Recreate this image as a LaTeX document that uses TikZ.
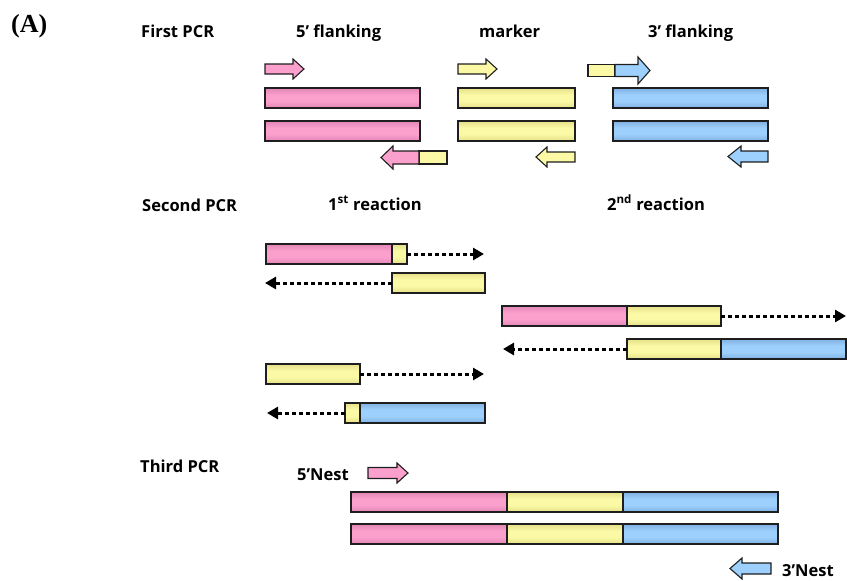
\documentclass[tikz,border=0pt]{standalone}
\usepackage{fontspec}
\setmainfont{Open Sans}
\newfontfamily\labelserif{Liberation Serif}
\usetikzlibrary{arrows.meta}

\definecolor{pinkM}{HTML}{FB9FCD}
\definecolor{pinkE}{HTML}{E186B5}
\definecolor{yelM}{HTML}{FBF9A6}
\definecolor{yelE}{HTML}{E6DF88}
\definecolor{bluM}{HTML}{9DD0FC}
\definecolor{bluE}{HTML}{80B0E2}
\definecolor{edge}{HTML}{1E1E1E}

% bar shadings: darker rims, light middle
\pgfdeclareverticalshading{pinkshade}{100bp}{color(0bp)=(pinkE); color(25bp)=(pinkE);
  color(42bp)=(pinkM); color(58bp)=(pinkM); color(75bp)=(pinkE); color(100bp)=(pinkE)}
\pgfdeclareverticalshading{yelshade}{100bp}{color(0bp)=(yelE); color(25bp)=(yelE);
  color(42bp)=(yelM); color(58bp)=(yelM); color(75bp)=(yelE); color(100bp)=(yelE)}
\pgfdeclareverticalshading{blushade}{100bp}{color(0bp)=(bluE); color(25bp)=(bluE);
  color(42bp)=(bluM); color(58bp)=(bluM); color(75bp)=(bluE); color(100bp)=(bluE)}

% primer arrow: fill, tail x, head-base x, tip x, mid y, shaft half height, head half height
\newcommand\primerarrow[7]{%
  \filldraw[primer,fill=#1] (#2,#5-#6) -- (#3,#5-#6) -- (#3,#5-#7) -- (#4,#5)
    -- (#3,#5+#7) -- (#3,#5+#6) -- (#2,#5+#6) -- cycle;}

\begin{document}
\begin{tikzpicture}[x=1pt,y=-1pt,
  bar/.style={draw=edge,line width=1.1pt,inner sep=0pt,outer sep=0pt,
    minimum height=20pt,anchor=north west},
  pinkbar/.style={bar,shading=pinkshade},
  yelbar/.style={bar,shading=yelshade},
  blubar/.style={bar,shading=blushade},
  primer/.style={draw=edge,line width=1.1pt,line join=miter},
  ext/.style={line width=3pt,dash pattern=on 4pt off 3pt,
    -{Triangle[length=11pt,width=12pt]}},
  lbl/.style={font=\bfseries\fontsize{16.5}{19}\selectfont,inner sep=0pt,anchor=base west}]

\useasboundingbox (0,0) rectangle (847,581);

% ---------- headings ----------
\node[inner sep=0pt,anchor=base west,font=\labelserif\bfseries\fontsize{26}{28}\selectfont] (tagA) at (11,32) {(A)};
\node[lbl] (hFirst) at (141,37) {First PCR};
\node[lbl] (h5f) at (296,37) {5’ flanking};
\node[lbl] (hMark) at (479,37) {marker};
\node[lbl] (h3f) at (648,37) {3’ flanking};
\node[lbl] (hSecond) at (142,211) {Second PCR};
\node[lbl] (hR1) at (328,210) {1\textsuperscript{st} reaction};
\node[lbl] (hR2) at (607,210) {2\textsuperscript{nd} reaction};
\node[lbl] (hThird) at (140,472) {Third PCR};
\node[lbl] (h5n) at (297,480) {5’Nest};
\node[lbl] (h3n) at (782,576) {3’Nest};

% ---------- first PCR: templates ----------
\node[pinkbar,minimum width=155pt] (p1) at (265,88) {};
\node[pinkbar,minimum width=155pt] (p2) at (265,121) {};
\node[yelbar,minimum width=117pt] (m1) at (458,88) {};
\node[yelbar,minimum width=117pt] (m2) at (458,121) {};
\node[blubar,minimum width=155pt] (b1) at (613,88) {};
\node[blubar,minimum width=155pt] (b2) at (613,121) {};

% first PCR: primers
\primerarrow{pinkM}{265}{293}{304}{69}{5}{10}
\primerarrow{yelM}{458}{486}{497}{69}{5}{10}
\filldraw[primer,fill=yelM] (588,64.5) rectangle (615,76.5);
\primerarrow{bluM}{615}{638}{650}{70.5}{6}{13.5}
\filldraw[primer,fill=yelM] (419,151) rectangle (447,164);
\primerarrow{pinkM}{419}{393}{381}{157.5}{6.5}{11.5}
\primerarrow{yelM}{575}{547}{536}{157}{5}{10}
\primerarrow{bluM}{768}{741}{728}{156.5}{5.5}{10.5}

% ---------- second PCR: 1st reaction ----------
\node[pinkbar,minimum width=126pt] (s1p) at (266,244) {};
\node[yelbar,minimum width=15pt] (s1y) at (392,244) {};
\coordinate (s1end) at (484,254);
\draw[ext] (s1y.east) -- (s1end);

\node[yelbar,minimum width=93pt] (s2y) at (392,273) {};
\coordinate (s2end) at (265,283);
\draw[ext] (s2y.west) -- (s2end);

\node[yelbar,minimum width=94pt] (s3y) at (266,364) {};
\coordinate (s3end) at (484,374);
\draw[ext] (s3y.east) -- (s3end);

\node[yelbar,minimum width=15pt] (s4y) at (345,403) {};
\node[blubar,minimum width=125pt] (s4b) at (360,403) {};
\coordinate (s4end) at (267,413);
\draw[ext] (s4y.west) -- (s4end);

% ---------- second PCR: 2nd reaction ----------
\node[pinkbar,minimum width=125pt] (t1p) at (502,306) {};
\node[yelbar,minimum width=94pt] (t1y) at (627,306) {};
\coordinate (t1end) at (846,316);
\draw[ext] (t1y.east) -- (t1end);

\node[yelbar,minimum width=94pt] (t2y) at (627,339) {};
\node[blubar,minimum width=125pt] (t2b) at (721,339) {};
\coordinate (t2end) at (503,349);
\draw[ext] (t2y.west) -- (t2end);

% ---------- third PCR ----------
\primerarrow{pinkM}{368}{397}{408}{473}{5.5}{10}
\node[pinkbar,minimum width=156pt] (f1p) at (351,492) {};
\node[yelbar,minimum width=116pt] (f1y) at (507,492) {};
\node[blubar,minimum width=155pt] (f1b) at (623,492) {};
\node[pinkbar,minimum width=156pt] (f2p) at (351,524) {};
\node[yelbar,minimum width=116pt] (f2y) at (507,524) {};
\node[blubar,minimum width=155pt] (f2b) at (623,524) {};
\primerarrow{bluM}{771}{742}{730}{568.5}{5.5}{10.5}

\end{tikzpicture}
\end{document}
